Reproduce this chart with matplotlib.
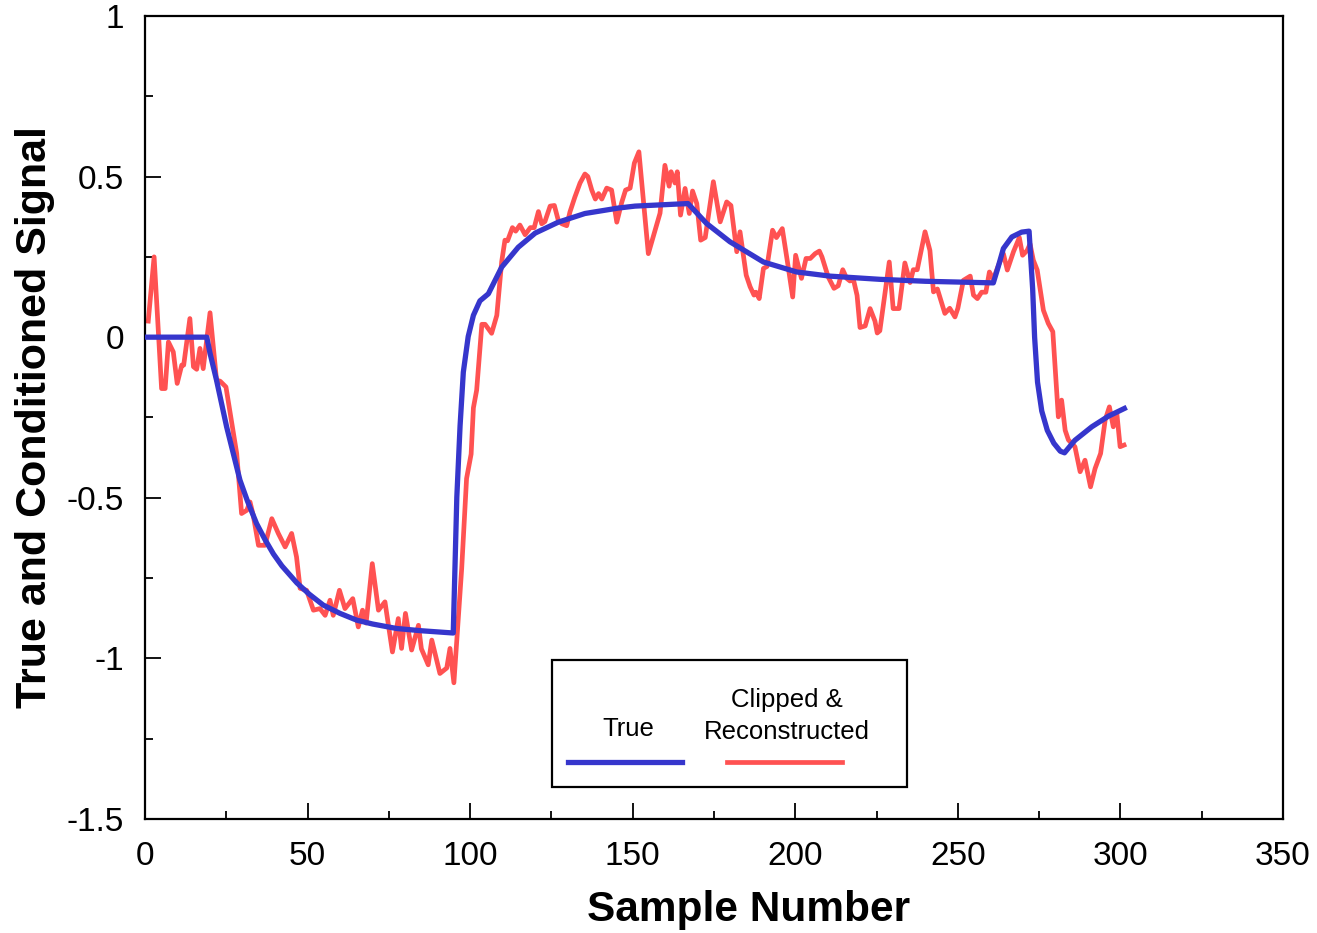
import numpy as np
import matplotlib
matplotlib.use('Agg')
import matplotlib.pyplot as plt
from matplotlib.patches import Rectangle
from matplotlib.lines import Line2D
from matplotlib.ticker import MultipleLocator

plt.rcParams['font.family'] = ['Liberation Sans', 'DejaVu Sans']

# "True" signal
true_x = [0, 19, 20, 22, 25.1, 29.2, 31.5, 34.3, 36.9, 39.5, 42.1, 46.7, 50.5, 54.8, 60, 65.1,
          70, 77.4, 85, 94.8,
          95.9, 96.9, 97.9, 99.4, 101.0, 103.0, 105.6, 109.7, 114.8, 120.0, 127.1, 135.3,
          145.6, 150.7, 167, 172.7, 179.9, 190.2, 200.4, 210.7, 226.1, 240, 260.9,
          262.4, 264.0, 266.6, 269.6, 271.9, 273.0, 273.6, 274.5, 275.8, 277.5, 279.5,
          281.5, 282.8, 286.0, 291.2, 296.3, 301.2]
true_y = [0, 0, -0.05, -0.134, -0.279, -0.445, -0.51, -0.58, -0.63, -0.675, -0.712, -0.765,
          -0.80, -0.834, -0.86, -0.881,
          -0.893, -0.907, -0.914, -0.921,
          -0.498, -0.276, -0.109, 0.002, 0.068, 0.113, 0.135, 0.218, 0.28, 0.324, 0.358, 0.385,
          0.402, 0.408, 0.416, 0.354, 0.297, 0.234, 0.203, 0.19, 0.18, 0.174, 0.169,
          0.219, 0.276, 0.312, 0.327, 0.33, 0.15, 0.0, -0.14, -0.23, -0.29, -0.33,
          -0.355, -0.36, -0.321, -0.279, -0.246, -0.222]

# clipped & reconstructed signal
rec_x = [1, 2.8, 5.1, 6.2, 7.2, 8.7, 9.9, 11.3, 11.9, 13.8, 14.9, 15.9, 16.9, 17.9, 20.0,
         22.0, 23.1, 24.9, 28.2, 29.7, 31.3, 32.3, 33.3, 34.9, 36.9, 39.0, 41.0, 43.1, 45.1,
         46.6, 47.7, 49.7, 51.8, 53.8, 55.4, 56.9, 57.9, 59.8, 61.5, 63.9, 65.6, 66.9, 68.0,
         69.9, 71.8, 73.8, 76.1, 77.9, 78.9, 80.1, 82.0, 84.1, 85.0, 87.1, 88.2, 90.7, 92.8,
         93.8, 95.0, 95.9, 97.4, 98.9, 100.3, 101.0, 102.0, 103.6, 104.6, 106.6, 108.2,
         109.7, 110.7, 111.5, 113.0, 114.0, 115.3, 116.9, 118.5, 119.7, 121.0, 122.0, 123.0,
         124.6, 125.9, 127.1, 128.2, 129.7, 130.7, 132.2, 133.8, 135.3, 136.2, 137.4, 138.5,
         139.5, 140.5, 142.0, 143.5, 145.1, 146.6, 147.8, 149.2, 150.5, 151.9, 154.8, 158.4,
         159.9, 161.2, 161.8, 163.0, 163.7, 164.7, 166.1, 167.4, 168.4, 169.7, 170.9, 172.3,
         174.8, 176.9, 178.9, 180.2, 182.0, 183.0, 184.9, 186.1, 187.3, 187.9, 188.9, 190.2,
         191.3, 193.0, 194.2, 196.0, 197.5, 199.2, 200.1, 201.9, 203.3, 204.6, 206.1, 207.4,
         208.2, 210.1, 211.9, 213.2, 214.6, 215.8, 216.8, 217.8, 219.0, 219.9, 221.5, 223.0,
         224.5, 225.2, 226.0, 228.9, 230.1, 231.9, 233.7, 235.3, 236.3, 237.5, 239.9, 241.4,
         242.5, 243.7, 246.0, 247.5, 249.1, 250.0, 251.7, 253.8, 254.8, 256.0, 257.3, 258.6,
         259.7, 260.9, 262.3, 264.0, 265.2, 267.1, 268.9, 269.9, 271.3, 272.2, 273.2, 274.4,
         276.3, 277.8, 279.2, 280.9, 281.9, 283.0, 284.0, 286.0, 287.6, 289.1, 290.8, 292.2,
         293.9, 295.3, 296.6, 297.8, 298.9, 299.9, 301.1]
rec_y = [0.05, 0.25, -0.16, -0.16, -0.015, -0.046, -0.144, -0.087, -0.087, 0.058, -0.092, -0.10,
         -0.035, -0.098, 0.076,
         -0.134, -0.137, -0.155, -0.362, -0.549, -0.539, -0.513, -0.555, -0.648, -0.648, -0.565,
         -0.611, -0.653, -0.611,
         -0.684, -0.782, -0.788, -0.85, -0.845, -0.866, -0.819, -0.866, -0.788, -0.845, -0.814,
         -0.902, -0.85, -0.89,
         -0.705, -0.85, -0.824, -0.98, -0.876, -0.969, -0.86, -0.974, -0.897, -0.97, -1.02,
         -0.943, -1.047, -1.03,
         -0.969, -1.076, -0.943, -0.72, -0.44, -0.364, -0.22, -0.165, 0.04, 0.04, 0.012, 0.068,
         0.235, 0.302, 0.30, 0.341, 0.33, 0.349, 0.319, 0.341, 0.341, 0.391, 0.353, 0.36,
         0.408, 0.41, 0.364, 0.353, 0.347, 0.39, 0.436, 0.48, 0.508, 0.50, 0.458, 0.43,
         0.447, 0.43, 0.464, 0.458, 0.358, 0.419, 0.458, 0.464, 0.542, 0.577, 0.26, 0.386,
         0.535, 0.47, 0.515, 0.48, 0.515, 0.38, 0.463, 0.385, 0.455, 0.416, 0.302, 0.31,
         0.484, 0.359, 0.421, 0.41, 0.266, 0.328, 0.193, 0.157, 0.131, 0.14, 0.12, 0.214,
         0.22, 0.333, 0.31, 0.338, 0.24, 0.125, 0.255, 0.183, 0.245, 0.245, 0.26, 0.268,
         0.25, 0.188, 0.152, 0.16, 0.21, 0.183, 0.175, 0.183, 0.13, 0.03, 0.035, 0.089,
         0.05, 0.013, 0.02, 0.234, 0.089, 0.089, 0.231, 0.17, 0.21, 0.21, 0.328, 0.27,
         0.141, 0.15, 0.074, 0.09, 0.063, 0.09, 0.177, 0.19, 0.131, 0.12, 0.14, 0.14,
         0.203, 0.18, 0.219, 0.26, 0.209, 0.266, 0.31, 0.255, 0.27, 0.29, 0.24, 0.209,
         0.084, 0.043, 0.017, -0.248, -0.196, -0.29, -0.32, -0.341, -0.419, -0.383, -0.466,
         -0.409, -0.362, -0.258, -0.217, -0.279, -0.238, -0.341, -0.336]

red = '#FF5252'
blue = '#3636CC'

fig = plt.figure(figsize=(13.17, 9.33), dpi=100)
ax = fig.add_axes([0.1101, 0.1222, 0.8641, 0.8607])

ax.plot(rec_x, rec_y, color=red, lw=3.4, solid_joinstyle='round', zorder=2)
ax.plot(true_x, true_y, color=blue, lw=3.8, solid_joinstyle='round', zorder=3)

ax.set_xlim(0, 350)
ax.set_ylim(-1.5, 1)
ax.xaxis.set_major_locator(MultipleLocator(50))
ax.xaxis.set_minor_locator(MultipleLocator(25))
ax.yaxis.set_major_locator(MultipleLocator(0.5))
ax.yaxis.set_minor_locator(MultipleLocator(0.25))
ax.set_yticks([-1.5, -1, -0.5, 0, 0.5, 1])
ax.set_yticklabels(['-1.5', '-1', '-0.5', '0', '0.5', '1'])

ax.tick_params(which='both', direction='in', top=False, right=False, width=1.3, color='black')
ax.tick_params(which='major', length=11.5)
ax.tick_params(which='minor', length=6)
ax.tick_params(axis='x', which='major', labelsize=24, pad=16)
ax.tick_params(axis='y', which='major', labelsize=24, pad=15)
for s in ax.spines.values():
    s.set_linewidth(1.6)

ax.set_xlabel('Sample Number', fontsize=30.5, fontweight='bold', va='center')
ax.xaxis.set_label_coords(0.53, -0.113)
ax.set_ylabel('True and Conditioned Signal', fontsize=31, fontweight='bold', va='center')
ax.yaxis.set_label_coords(-0.097, 0.5)

# legend box drawn by hand
ax.add_patch(Rectangle((0.3576, 0.0399), 0.312, 0.158, transform=ax.transAxes,
                       facecolor='white', edgecolor='black', lw=1.6, zorder=5))
ax.add_line(Line2D([0.3717, 0.4719], [0.071, 0.071], transform=ax.transAxes,
                   color=blue, lw=3.8, zorder=6))
ax.add_line(Line2D([0.5114, 0.6125], [0.071, 0.071], transform=ax.transAxes,
                   color=red, lw=3.4, zorder=6))
ax.text(0.4244, 0.112, 'True', transform=ax.transAxes, ha='center', va='center',
        fontsize=18.5, zorder=6)
ax.text(0.5642, 0.128, 'Clipped &\nReconstructed', transform=ax.transAxes, ha='center',
        va='center', fontsize=18.5, linespacing=1.4, zorder=6)

fig.savefig('out.png', dpi=100)
